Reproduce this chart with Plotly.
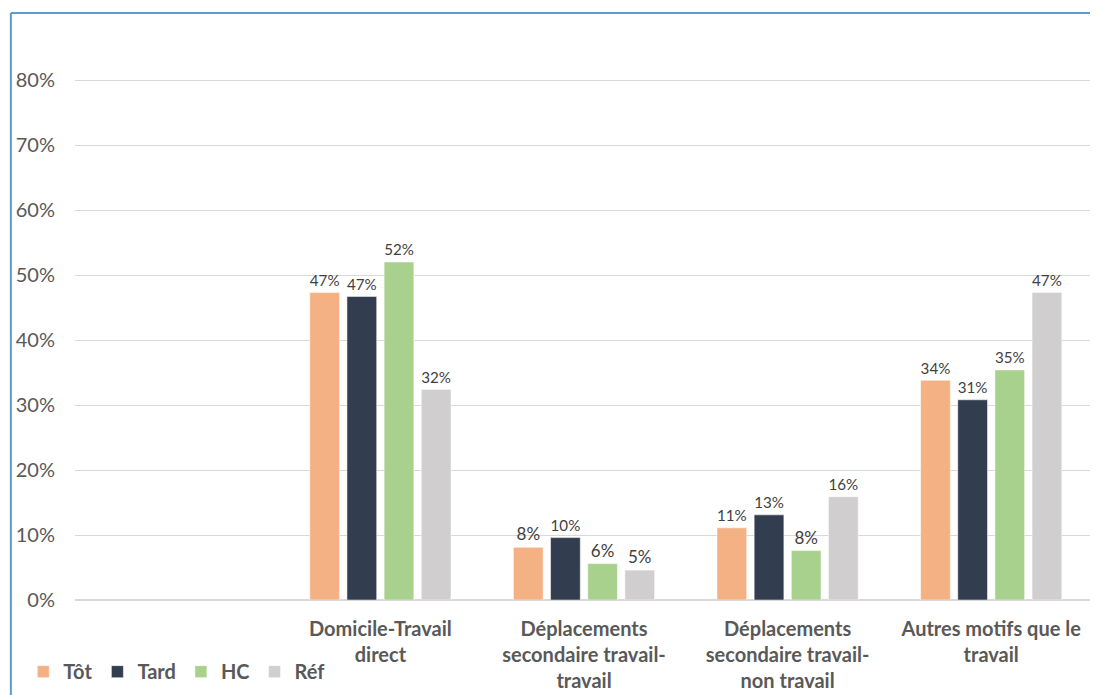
import plotly.graph_objects as go

# categories (first slot is empty in the original chart)
categories = [" ", "Domicile-Travail<br>direct",
              "Déplacements<br>secondaire travail-<br>travail",
              "Déplacements<br>secondaire travail-<br>non travail",
              "Autres motifs que le<br>travail"]

# shares per series
tot = [None, 0.473, 0.081, 0.111, 0.338]
tard = [None, 0.467, 0.096, 0.131, 0.308]
hc = [None, 0.520, 0.056, 0.076, 0.354]
ref = [None, 0.324, 0.046, 0.159, 0.473]

series_names = ["Tôt", "Tard", "HC", "Réf"]
series_colors = ["#F4B183", "#323D4F", "#A9D18E", "#D0CECE"]

fig = go.Figure()
for name, vals, col in zip(series_names, [tot, tard, hc, ref], series_colors):
    fig.add_trace(go.Bar(
        x=categories, y=vals, name=name,
        marker=dict(color=col, line=dict(color="white", width=0.5)),
        texttemplate="%{y:.0%}", textposition="outside",
        textfont=dict(size=17, color="#404040"),
        cliponaxis=False,
    ))

# page body has an 8px margin, so the figure is shrunk to land where the original sits
fig.update_layout(
    width=1090, height=687,
    margin=dict(l=67, r=5, t=7, b=95),
    paper_bgcolor="white", plot_bgcolor="white",
    font=dict(family="Lato, Open Sans, sans-serif", color="#595959"),
    barmode="group", bargap=0.27, bargroupgap=0.2,
    legend=dict(orientation="h", xref="container", yref="container",
                x=0.014, y=0.034, xanchor="left", yanchor="middle",
                font=dict(size=20, color="#595959", weight="bold"),
                itemwidth=30, traceorder="normal"),
    showlegend=True,
)
fig.update_yaxes(range=[0, 0.9], tickvals=[0, 0.1, 0.2, 0.3, 0.4, 0.5, 0.6, 0.7, 0.8],
                 tickformat=".0%", showgrid=True, gridcolor="#D9D9D9", gridwidth=1,
                 zeroline=True, zerolinecolor="#D9D9D9", showline=False, automargin=False,
                 tickfont=dict(size=20, color="#595959"), ticklabelstandoff=19)
fig.update_xaxes(showline=False, automargin=False,
                 tickfont=dict(size=20, color="#595959", weight="bold"),
                 ticklabelstandoff=15)

# blue frame (left and top edges of the chart border)
fig.add_shape(type="line", xref="paper", yref="paper", x0=-0.063, x1=1.01, y0=1.0034, y1=1.0034,
              line=dict(color="#5B9BD5", width=2))
fig.add_shape(type="line", xref="paper", yref="paper", x0=-0.063, x1=-0.063, y0=1.0034, y1=-0.2,
              line=dict(color="#5B9BD5", width=2))

fig.write_html("out.html")
